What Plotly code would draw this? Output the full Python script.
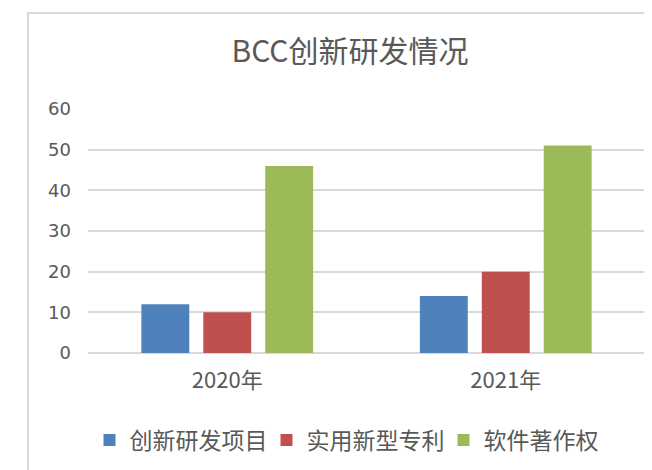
import plotly.graph_objects as go

categories = ["2020年", "2021年"]
series_names = ["创新研发项目", "实用新型专利", "软件著作权"]
innovation_projects = [12, 14]
utility_patents = [10, 20]
software_copyrights = [46, 51]
y_ticks = [0, 10, 20, 30, 40, 50, 60]

colors = ["#4F81BD", "#C0504D", "#9BBB59"]
font_family = "Noto Sans CJK SC, Noto Sans, sans-serif"
text_color = "#595959"

fig = go.Figure()
for name, vals, col in zip(series_names,
                           [innovation_projects, utility_patents, software_copyrights],
                           colors):
    fig.add_trace(go.Bar(x=categories, y=vals, name=name, marker_color=col,
                         marker_line_width=0))

# page body has an 8px margin; work in window coords minus 8
OFF = 8
W, H = 652 - OFF, 470 - OFF
L = 88 - OFF
T = 109 - OFF
R = W - (645 - OFF)
B = H - (353 - OFF)
pw = W - L - R
ph = H - T - B


def px_x(x):
    return (x - OFF - L) / pw


def px_y(y):
    return (353 - y) / ph


fig.update_layout(
    width=W, height=H,
    margin=dict(l=L, r=R, t=T, b=B, pad=0),
    paper_bgcolor="white", plot_bgcolor="white",
    barmode="group", bargap=0.333, bargroupgap=0.226,
    title=dict(text="BCC创新研发情况", x=px_x(350), xref="paper", xanchor="center",
               y=1 - (51 - OFF) / H, yanchor="middle",
               font=dict(family=font_family, size=30, color=text_color)),
    font=dict(family=font_family, color=text_color),
    xaxis=dict(showgrid=False, showline=False, ticks="",
               tickfont=dict(size=22, color=text_color), ticklabelstandoff=12),
    yaxis=dict(range=[0, 60], tickvals=y_ticks, showgrid=True, gridcolor="#d9d9d9",
               gridwidth=1.5, zeroline=True, zerolinecolor="#d9d9d9", zerolinewidth=1.5,
               showline=False, ticks="",
               tickfont=dict(family="DejaVu Sans", size=18, color=text_color),
               ticklabelstandoff=16),
    legend=dict(orientation="h", x=px_x(355), xanchor="center",
                y=px_y(440), yanchor="middle",
                font=dict(size=23, color=text_color), itemwidth=30,
                entrywidth=132, entrywidthmode="pixels",
                traceorder="normal"),
    shapes=[dict(type="path", xref="paper", yref="paper",
                 path=f"M {px_x(28)} -0.7 L {px_x(28)} {px_y(13)} L 1.2 {px_y(13)}",
                 line=dict(color="#d9d9d9", width=2))],
)

fig.write_html("out.html")
